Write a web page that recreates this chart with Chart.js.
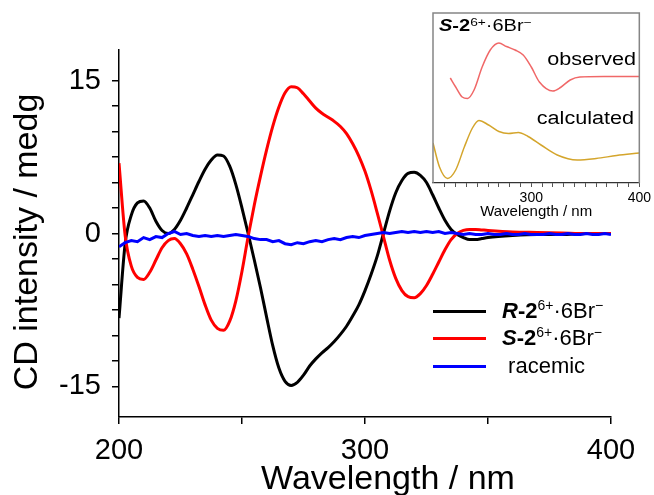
<!DOCTYPE html>
<html>
<head>
<meta charset="utf-8">
<script src="https://cdn.jsdelivr.net/npm/chart.js@4.4.1/dist/chart.umd.min.js"></script>
<style>
  html, body { margin: 0; padding: 0; background: #fff; }
  #wrap { position: relative; width: 654px; height: 495px; font-family: "Liberation Sans", Arial, sans-serif; }
  #main { position: absolute; left: 0; top: 0; }
  #inset { position: absolute; left: 420px; top: 0; }
  .row { position: absolute; left: 433px; height: 26px; display: flex; align-items: center; font-size: 22px; color: #000; white-space: nowrap; }
  .row .ln { width: 53px; height: 3px; margin-right: 16px; }
  sup { font-size: 14px; vertical-align: baseline; position: relative; top: -8px; }
  .note { position: absolute; color: #000; white-space: nowrap; }
</style>
</head>
<body>
<div id="wrap">
  <canvas id="main" width="654" height="495"></canvas>
  <canvas id="inset" width="234" height="230"></canvas>

  <div class="row" style="top:298px"><span class="ln" style="background:#000"></span><span><b><i>R</i>-2</b><sup>6+</sup>·6Br<sup>−</sup></span></div>
  <div class="row" style="top:325px"><span class="ln" style="background:#ff0000"></span><span><b><i>S</i>-2</b><sup>6+</sup>·6Br<sup>−</sup></span></div>
  <div class="row" style="top:353px"><span class="ln" style="background:#0000ff"></span><span>&nbsp;racemic</span></div>

  <div class="note" style="left:439px; top:17px; font-size:16px; transform:scaleX(1.25); transform-origin:left center;"><b><i>S</i>-2</b><sup style="font-size:11px;top:-5px">6+</sup>·6Br<sup style="font-size:11px;top:-5px">−</sup></div>
  <div class="note" style="right:18px; top:49px; font-size:18px; transform:scaleX(1.2); transform-origin:right center;">observed</div>
  <div class="note" style="right:20px; top:108px; font-size:18px; transform:scaleX(1.2); transform-origin:right center;">calculated</div>
</div>

<script>
// main spectra (wavelength in nm, CD in mdeg)
const waveRS = [200, 202.5, 205, 207.5, 210, 212.5, 215, 217.5, 220, 222.5,
  225, 227.5, 230, 232.5, 235, 237.5, 240, 242.5, 245, 247.5,
  250, 252.5, 255, 257.5, 260, 262.5, 265, 267.5, 270, 272.5,
  275, 277.5, 280, 282.5, 285, 287.5, 290, 292.5, 295, 297.5,
  300, 302.5, 305, 307.5, 310, 312.5, 315, 317.5, 320, 322.5,
  325, 327.5, 330, 332.5, 335, 337.5, 340, 342.5, 345, 347.5,
  350, 360, 370, 380, 390, 400];
const cdR = [-8.3, -1.0, 1.8, 3.0, 3.2, 2.5, 1.2, 0.3, 0.0, 0.4,
  1.3, 2.5, 3.8, 5.1, 6.3, 7.2, 7.7, 7.6, 6.6, 4.8,
  2.5, 0.0, -2.6, -5.3, -8.2, -11.0, -13.2, -14.5, -14.9, -14.6,
  -13.9, -13.0, -12.3, -11.7, -11.2, -10.6, -9.9, -9.1, -8.1, -7.0,
  -5.6, -4.0, -2.2, 0.0, 2.2, 4.0, 5.2, 5.9, 6.0, 5.7,
  5.0, 3.8, 2.5, 1.3, 0.4, -0.1, -0.4, -0.6, -0.6, -0.5,
  -0.4, -0.2, -0.1, -0.1, 0.0, 0.0];
const cdS = [6.9, -0.2, -3.2, -4.3, -4.5, -3.8, -2.6, -1.4, -0.7, -0.5,
  -1.0, -2.0, -3.5, -5.2, -7.0, -8.5, -9.3, -9.5, -8.6, -6.6,
  -3.7, -0.3, 2.8, 5.6, 8.2, 10.5, 12.4, 13.8, 14.4, 14.3,
  13.7, 13.0, 12.3, 11.8, 11.4, 11.0, 10.5, 9.8, 8.8, 7.6,
  6.1, 4.2, 2.0, -0.3, -2.6, -4.4, -5.6, -6.2, -6.3, -5.9,
  -5.1, -4.0, -2.8, -1.6, -0.6, 0.0, 0.3, 0.4, 0.4, 0.35,
  0.3, 0.15, 0.1, 0.05, 0.0, 0.0];

const waveRac = [200, 202.5, 205, 207.5, 210, 212.5, 215, 217.5, 220, 222.5,
  225, 227.5, 230, 232.5, 235, 237.5, 240, 242.5, 245, 247.5,
  250, 252.5, 255, 257.5, 260, 262.5, 265, 267.5, 270, 272.5,
  275, 277.5, 280, 282.5, 285, 287.5, 290, 292.5, 295, 297.5,
  300, 302.5, 305, 307.5, 310, 312.5, 315, 317.5, 320, 322.5,
  325, 327.5, 330, 332.5, 335, 337.5, 340, 342.5, 345, 347.5,
  350, 352.5, 355, 357.5, 360, 362.5, 365, 367.5, 370, 372.5,
  375, 377.5, 380, 382.5, 385, 387.5, 390, 392.5, 395, 397.5, 400];
const cdRac = [-1.3, -0.9, -0.7, -0.8, -0.4, -0.6, -0.3, -0.4, 0.0, 0.2,
  -0.1, 0.0, -0.2, -0.3, -0.2, -0.3, -0.2, -0.3, -0.2, -0.1,
  -0.2, -0.3, -0.5, -0.6, -0.6, -0.8, -0.7, -1.0, -1.1, -0.9,
  -1.0, -0.8, -0.7, -0.8, -0.6, -0.5, -0.6, -0.4, -0.3, -0.4,
  -0.2, -0.1, 0.0, 0.1, 0.0, 0.1, 0.2, 0.1, 0.2, 0.1,
  0.2, 0.1, 0.2, 0.0, 0.1, 0.0, -0.1, 0.0, -0.1, -0.1,
  0.0, -0.1, -0.1, 0.0, -0.1, -0.1, 0.0, -0.1, -0.1, -0.1,
  0.0, -0.1, -0.1, 0.0, -0.1, -0.1, 0.0, -0.1, -0.1, 0.0, -0.1];

// inset curves (arbitrary units)
const waveObs = [225, 230, 236, 241, 247, 254.5, 262, 270, 277, 285,
  292.5, 300, 307.5, 320, 327, 336, 345, 367, 400];
const valObs = [105, 96, 86, 84.5, 93, 116, 133, 140, 136.5, 133,
  128, 116, 101, 92, 95.5, 103, 106, 106.5, 106.5];
const waveCalc = [209, 215, 222.5, 230, 238, 245.5, 251.5, 260.5, 270, 279,
  288, 297, 309, 324, 342.5, 360, 379, 400];
const valCalc = [40, 16, 4.5, 13, 36, 55, 62.5, 58, 51.5, 49.5,
  50.5, 46.5, 38, 28, 23, 24.5, 27.5, 30];

const mainTicks = [-15, 0, 15];
const mainXLabels = [200, 300, 400];
const insetXLabels = [300, 400];

const font = '"Liberation Sans", Arial, sans-serif';
const pts = (xs, ys) => xs.map((x, i) => ({ x: x, y: ys[i] }));

// axis titles sit a little off-centre in the original figure
const axisTitles = {
  id: 'axisTitles',
  afterDraw(chart) {
    const ctx = chart.ctx;
    ctx.save();
    ctx.fillStyle = '#000';
    ctx.font = '34px ' + font;
    ctx.textAlign = 'center';
    ctx.textBaseline = 'middle';
    ctx.fillText('Wavelength / nm', 388, 480);
    ctx.translate(28, 242);
    ctx.rotate(-Math.PI / 2);
    ctx.fillText('CD intensity / medg', 0, 0);
    ctx.restore();
  }
};

new Chart(document.getElementById('main'), {
  type: 'line',
  data: {
    datasets: [
      { label: 'racemic', data: pts(waveRac, cdRac), borderColor: '#0000ff', borderWidth: 3, tension: 0, pointRadius: 0, order: 0 },
      { label: 'S', data: pts(waveRS, cdS), borderColor: '#ff0000', borderWidth: 3, cubicInterpolationMode: 'monotone', pointRadius: 0, order: 1 },
      { label: 'R', data: pts(waveRS, cdR), borderColor: '#000000', borderWidth: 3, cubicInterpolationMode: 'monotone', pointRadius: 0, order: 2 }
    ]
  },
  options: {
    responsive: false,
    animation: false,
    layout: { padding: { top: 50, right: 43, left: 0, bottom: 0 } },
    plugins: { legend: { display: false }, tooltip: { enabled: false } },
    scales: {
      x: {
        type: 'linear', min: 200, max: 400,
        afterFit: s => { s.height = 78; },
        border: { display: true, color: '#000', width: 1.5 },
        grid: { drawOnChartArea: false, color: '#000', lineWidth: 1.5, tickLength: 7 },
        ticks: {
          stepSize: 50, autoSkip: false, maxRotation: 0, padding: 10,
          color: '#000', font: { family: font, size: 29 },
          callback: v => mainXLabels.includes(v) ? String(v) : ''
        }
      },
      y: {
        min: -18, max: 18,
        afterFit: s => { s.width = 119; },
        afterBuildTicks: s => {
          s.ticks = s.ticks.filter(t => Math.abs(t.value / 2.5 - Math.round(t.value / 2.5)) < 1e-6 && Math.abs(t.value) < 18);
        },
        border: { display: true, color: '#000', width: 1.5 },
        grid: { drawOnChartArea: false, color: '#000', lineWidth: 1.5, tickLength: 7 },
        ticks: {
          stepSize: 2.5, autoSkip: false, padding: 11,
          color: '#000', font: { family: font, size: 29 },
          callback: v => mainTicks.includes(v) ? String(v) : ''
        }
      }
    }
  },
  plugins: [axisTitles]
});

const insetFrame = {
  id: 'insetFrame',
  afterDraw(chart) {
    const { ctx, chartArea: a } = chart;
    ctx.save();
    ctx.strokeStyle = '#858585';
    ctx.lineWidth = 1.5;
    ctx.beginPath();
    ctx.moveTo(a.left, a.bottom);
    ctx.lineTo(a.left, a.top);
    ctx.lineTo(a.right, a.top);
    ctx.lineTo(a.right, a.bottom);
    ctx.stroke();
    ctx.restore();
  }
};

new Chart(document.getElementById('inset'), {
  type: 'line',
  data: {
    datasets: [
      { label: 'observed', data: pts(waveObs, valObs), borderColor: '#f06868', borderWidth: 1.5, cubicInterpolationMode: 'monotone', pointRadius: 0 },
      { label: 'calculated', data: pts(waveCalc, valCalc), borderColor: '#d4a52c', borderWidth: 1.5, cubicInterpolationMode: 'monotone', pointRadius: 0 }
    ]
  },
  options: {
    responsive: false,
    animation: false,
    layout: { padding: { top: 13, right: 11, left: 13, bottom: 0 } },
    plugins: { legend: { display: false }, tooltip: { enabled: false } },
    scales: {
      x: {
        type: 'linear', min: 209, max: 400,
        afterFit: s => { s.height = 47; },
        afterBuildTicks: s => {
          s.ticks = s.ticks.filter(t => t.value % 10 === 0 && t.value >= 220);
        },
        border: { display: true, color: '#333', width: 1.2 },
        grid: { drawOnChartArea: false, color: '#555', lineWidth: 1, tickLength: 4 },
        ticks: {
          stepSize: 10, autoSkip: false, maxRotation: 0, padding: 3,
          color: '#000', font: { family: font, size: 14 },
          callback: v => insetXLabels.includes(v) ? String(v) : ''
        },
        title: { display: true, text: 'Wavelength / nm', color: '#000', font: { family: font, size: 15, lineHeight: 1.2 }, padding: { top: 0, bottom: 9 } }
      },
      y: { display: false, min: 0, max: 170 }
    }
  },
  plugins: [insetFrame]
});
</script>
</body>
</html>
